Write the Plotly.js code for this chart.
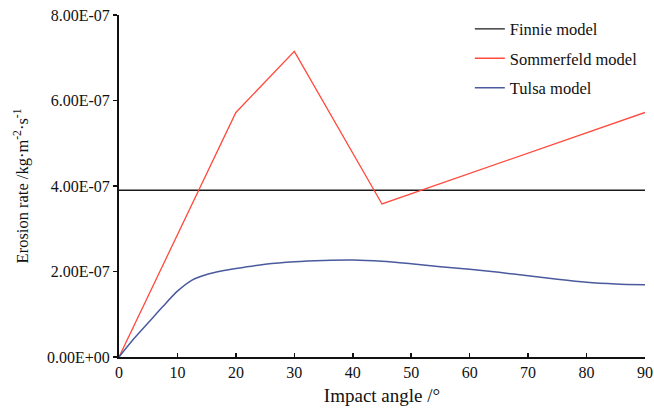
<!DOCTYPE html>
<html>
<head>
<meta charset="utf-8">
<script src="https://cdn.plot.ly/plotly-3.0.1.min.js"></script>
<style>html,body{margin:0;padding:0;background:#fff;}#chart{width:654px;height:413px;}</style>
</head>
<body>
<div id="chart"></div>
<script>
// Data
const finnieX = [0, 90];
const finnieY = [3.9e-7, 3.9e-7];

const sommerfeldX = [0, 20, 30, 45, 90];
const sommerfeldY = [0, 5.72e-7, 7.15e-7, 3.58e-7, 5.72e-7];

const tulsaX = [0, 2.5, 5, 7.5, 10, 12.5, 15, 17.5, 20, 25, 30, 35, 40, 45, 50, 55, 60, 65, 70, 75, 80, 85, 90];
const tulsaY = [0, 0.42e-7, 0.8e-7, 1.18e-7, 1.54e-7, 1.8e-7, 1.93e-7, 2.01e-7, 2.07e-7, 2.17e-7, 2.23e-7, 2.26e-7, 2.27e-7, 2.24e-7, 2.18e-7, 2.11e-7, 2.05e-7, 1.98e-7, 1.9e-7, 1.82e-7, 1.75e-7, 1.71e-7, 1.69e-7];

const yTickVals = [0, 2e-7, 4e-7, 6e-7, 8e-7];
const yTickText = ["0.00E+00", "2.00E-07", "4.00E-07", "6.00E-07", "8.00E-07"];
const xTickVals = [0, 10, 20, 30, 40, 50, 60, 70, 80, 90];

const font = "'Liberation Serif', 'Times New Roman', serif";

const traces = [
  {x: finnieX, y: finnieY, mode: "lines", name: "Finnie model", legendgroup: "a",
   line: {color: "#1a1a1a", width: 1.3}},
  {x: sommerfeldX, y: sommerfeldY, mode: "lines", name: "Sommerfeld model", legendgroup: "b",
   line: {color: "#ff4a3d", width: 1.3}},
  {x: tulsaX, y: tulsaY, mode: "lines", name: "Tulsa model", legendgroup: "c",
   line: {color: "#4a5a9e", width: 1.5, shape: "spline", smoothing: 0.8}}
];

const layout = {
  width: 654, height: 413,
  margin: {l: 119, r: 9, t: 15, b: 56, autoexpand: false},
  paper_bgcolor: "#fff", plot_bgcolor: "#fff",
  font: {family: font, size: 16, color: "#111"},
  showlegend: true,
  legend: {x: 0.667, y: 1.01, xanchor: "left", yanchor: "top", bgcolor: "rgba(0,0,0,0)",
           font: {family: font, size: 16.5, color: "#111"}, tracegroupgap: 5},
  xaxis: {
    range: [0, 90], tickvals: xTickVals, ticks: "inside", ticklen: 4, tickwidth: 1.5, tickcolor: "#111",
    showline: true, linecolor: "#111", linewidth: 2, showgrid: false, zeroline: false,
    tickfont: {family: font, size: 16},
    title: {text: "Impact angle /°", font: {family: font, size: 19}, standoff: 8}
  },
  yaxis: {
    range: [0, 8e-7], tickvals: yTickVals, ticktext: yTickText, ticks: "outside", ticklen: 4, tickwidth: 1.5, tickcolor: "#111",
    showline: true, linecolor: "#111", linewidth: 2, showgrid: false, zeroline: false,
    tickfont: {family: font, size: 16},
    title: {text: "Erosion rate /kg·m<sup>-2</sup>·s<sup>-1</sup>", font: {family: font, size: 16.5}, standoff: 14}
  }
};

Plotly.newPlot("chart", traces, layout, {displayModeBar: false, staticPlot: true});
</script>
</body>
</html>
